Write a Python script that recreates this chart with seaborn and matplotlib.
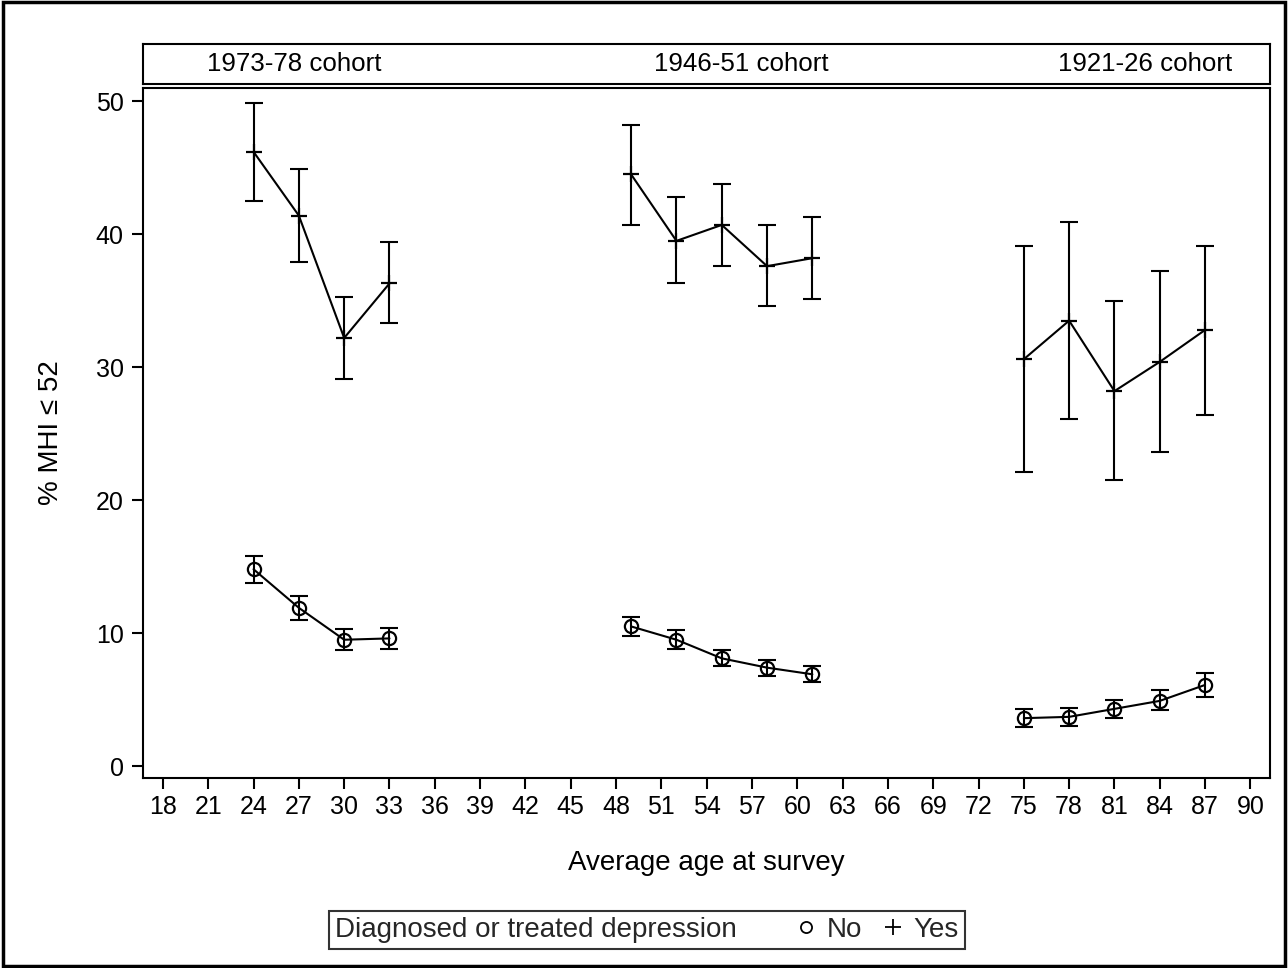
import numpy as np
import pandas as pd
import matplotlib
matplotlib.use("Agg")
import matplotlib.pyplot as plt
import seaborn as sns
from matplotlib.lines import Line2D
from matplotlib.patches import Rectangle

sns.set_theme(style="white")
plt.rcParams['font.family'] = ['Liberation Sans', 'DejaVu Sans']

cohorts = ["1973-78 cohort", "1946-51 cohort", "1921-26 cohort"]
ages_c1 = [24, 27, 30, 33]
ages_c2 = [49, 52, 55, 58, 61]
ages_c3 = [75, 78, 81, 84, 87]

yes_c1 = [46.2, 41.4, 32.2, 36.3]
yes_c1_lo = [42.5, 37.9, 29.1, 33.3]
yes_c1_hi = [49.9, 44.9, 35.3, 39.4]
no_c1 = [14.8, 11.9, 9.5, 9.6]
no_c1_lo = [13.8, 11.0, 8.7, 8.8]
no_c1_hi = [15.8, 12.8, 10.3, 10.4]

yes_c2 = [44.5, 39.5, 40.7, 37.6, 38.2]
yes_c2_lo = [40.7, 36.3, 37.6, 34.6, 35.1]
yes_c2_hi = [48.2, 42.8, 43.8, 40.7, 41.3]
no_c2 = [10.5, 9.5, 8.1, 7.4, 6.9]
no_c2_lo = [9.8, 8.8, 7.5, 6.8, 6.3]
no_c2_hi = [11.2, 10.2, 8.7, 8.0, 7.5]

yes_c3 = [30.6, 33.5, 28.2, 30.4, 32.8]
yes_c3_lo = [22.1, 26.1, 21.5, 23.6, 26.4]
yes_c3_hi = [39.1, 40.9, 35.0, 37.2, 39.1]
no_c3 = [3.6, 3.7, 4.3, 4.9, 6.1]
no_c3_lo = [2.9, 3.0, 3.6, 4.2, 5.2]
no_c3_hi = [4.3, 4.4, 5.0, 5.7, 7.0]

xticks = list(range(18, 91, 3))
yticks = [0, 10, 20, 30, 40, 50]

rows = []
for coh, ages, ys, ylo, yhi, ns, nlo, nhi in [
    (cohorts[0], ages_c1, yes_c1, yes_c1_lo, yes_c1_hi, no_c1, no_c1_lo, no_c1_hi),
    (cohorts[1], ages_c2, yes_c2, yes_c2_lo, yes_c2_hi, no_c2, no_c2_lo, no_c2_hi),
    (cohorts[2], ages_c3, yes_c3, yes_c3_lo, yes_c3_hi, no_c3, no_c3_lo, no_c3_hi),
]:
    for a, v, lo, hi in zip(ages, ys, ylo, yhi):
        rows.append(dict(cohort=coh, age=a, pct=v, lo=lo, hi=hi, dep="Yes"))
    for a, v, lo, hi in zip(ages, ns, nlo, nhi):
        rows.append(dict(cohort=coh, age=a, pct=v, lo=lo, hi=hi, dep="No"))
df = pd.DataFrame(rows)

W, H = 1288, 968
fig = plt.figure(figsize=(W / 100, H / 100), dpi=100)
fig.patch.set_facecolor("white")

def fx(px):
    return px / W

def fy(py):
    return 1 - py / H

ax = fig.add_axes([fx(143), fy(778), fx(1270) - fx(143), fy(88) - fy(778)])
hax = fig.add_axes([fx(143), fy(84), fx(1270) - fx(143), fy(44) - fy(84)])

for dep, mk, ms in [("No", "o", 9.5), ("Yes", "+", 12)]:
    sub = df[df.dep == dep]
    sns.lineplot(data=sub, x="age", y="pct", units="cohort", estimator=None,
                 color="black", lw=1.5, marker=mk, markersize=ms,
                 markerfacecolor="none", markeredgecolor="black", markeredgewidth=1.6,
                 ax=ax, legend=False)
    ax.errorbar(sub["age"], sub["pct"],
                yerr=[sub["pct"] - sub["lo"], sub["hi"] - sub["pct"]],
                fmt="none", ecolor="black", elinewidth=1.5, capsize=6.5, capthick=1.5)

ax.set_xlim(16.68, 91.3)
ax.set_ylim(-0.9, 51.0)
ax.set_xticks(xticks)
ax.set_xticklabels([str(t) for t in xticks])
ax.set_yticks(yticks)
ax.set_yticklabels([str(t) for t in yticks])
ax.tick_params(axis="both", direction="out", length=8, width=1.5, color="black",
               labelsize=18, labelcolor="black", bottom=True, left=True)
ax.tick_params(axis="x", pad=4)
ax.tick_params(axis="y", pad=6)
for s in ax.spines.values():
    s.set_color("black")
    s.set_linewidth(1.5)
ax.set_xlabel("Average age at survey", fontsize=20, color="black")
ax.set_ylabel("% MHI ≤ 52", fontsize=20, color="black")
ax.xaxis.set_label_coords(0.5, -0.104)
ax.yaxis.set_label_coords(-0.0705, 0.5)
ax.grid(False)

hax.set_xlim(16.68, 91.3)
hax.set_ylim(0, 1)
hax.set_xticks([])
hax.set_yticks([])
for s in hax.spines.values():
    s.set_color("black")
    s.set_linewidth(1.5)
label_x = [26.7, 56.3, 83.0]
for lx, coh in zip(label_x, cohorts):
    hax.text(lx, 0.5, coh, ha="center", va="center", fontsize=18.6, color="black")

handles = [Line2D([], [], linestyle="none", marker=None),
           Line2D([], [], linestyle="none", marker="o", markersize=8,
                  markerfacecolor="none", markeredgecolor="black", markeredgewidth=1.3),
           Line2D([], [], linestyle="none", marker="+", markersize=12,
                  markeredgecolor="black", markeredgewidth=1.3)]
labels = ["Diagnosed or treated depression", "No", "Yes"]
leg = fig.legend(handles, labels, loc="center", bbox_to_anchor=(fx(647), fy(930)),
                 ncol=3, frameon=True, fancybox=False, edgecolor="black",
                 fontsize=20, handlelength=0.6, handletextpad=0.45, columnspacing=0.8,
                 borderpad=0.2, borderaxespad=0)
leg.get_frame().set_linewidth(1.5)
try:
    col0 = leg._legend_handle_box.get_children()[0]
    item0 = col0.get_children()[0]
    da, ta = item0.get_children()
    item0._children = [ta, da]
    da.width = 28
    item0.sep = 0
except Exception:
    pass

fig.add_artist(Rectangle((0.002, 0.002), 0.996, 0.996, transform=fig.transFigure,
                         fill=False, edgecolor="black", linewidth=2.5))

fig.savefig("out.png", dpi=100)
